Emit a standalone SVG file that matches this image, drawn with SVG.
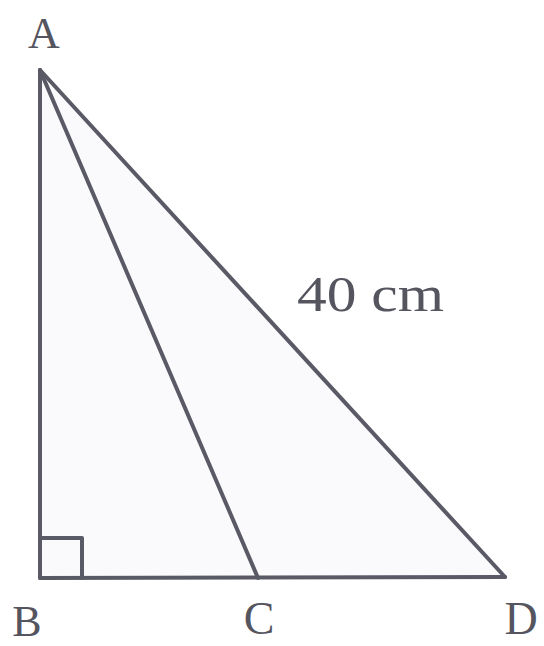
<svg xmlns="http://www.w3.org/2000/svg" width="544" height="646" viewBox="0 0 544 646">
<style>
.l{stroke:#5a5a66;stroke-width:4;fill:none;stroke-linecap:round;stroke-linejoin:round}
.t{font-family:"Liberation Serif","DejaVu Serif",serif;fill:#55555f}
</style>
<rect width="544" height="646" fill="#ffffff"/>
<g id="triangle">
<polygon points="40,70 40,578 505,577" fill="#fafafd"/>
</g>
<g id="connectors">
<line class="l" x1="40" y1="70" x2="40" y2="578"/>
<line class="l" x1="40" y1="578" x2="505" y2="577"/>
<line class="l" x1="40" y1="70" x2="505" y2="577"/>
<line class="l" x1="40" y1="70" x2="258" y2="578"/>
<polyline class="l" points="40,538 82,538 82,578"/>
</g>
<g id="A"><text class="t" x="44" y="48" font-size="44" text-anchor="middle">A</text></g>
<g id="B"><text class="t" x="27" y="636" font-size="44" text-anchor="middle">B</text></g>
<g id="C"><text class="t" x="259" y="634" font-size="46" text-anchor="middle">C</text></g>
<g id="D"><text class="t" x="521" y="634" font-size="46" text-anchor="middle">D</text></g>
<g id="label"><text class="t" x="297" y="311" font-size="50" textLength="147" lengthAdjust="spacingAndGlyphs">40 cm</text></g>
</svg>
